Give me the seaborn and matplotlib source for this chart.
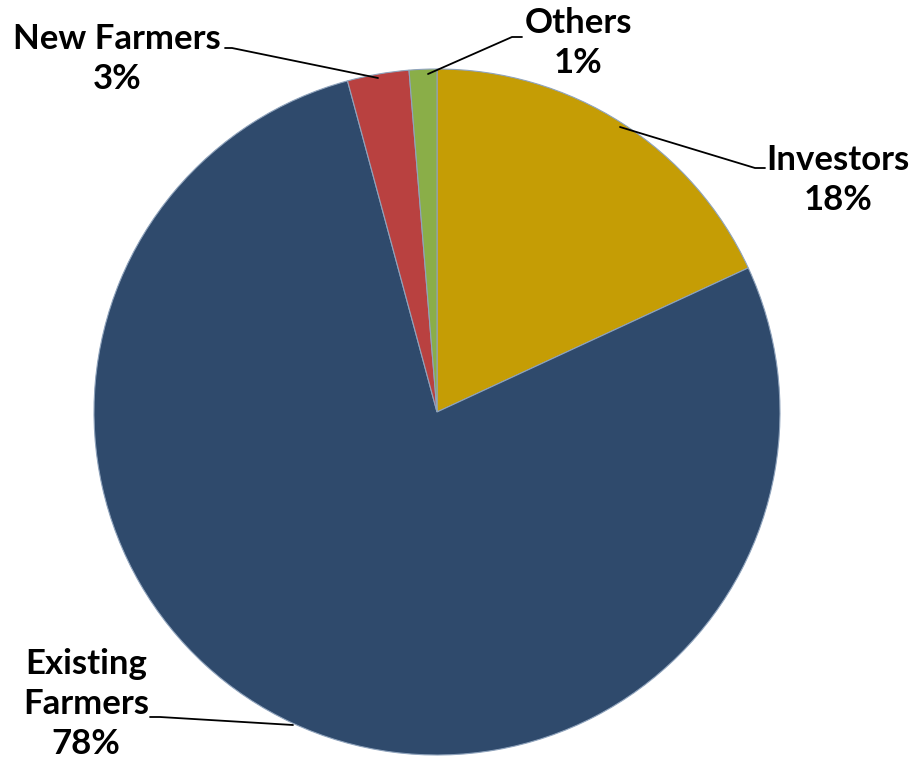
import matplotlib
matplotlib.use('Agg')
import matplotlib.pyplot as plt
import seaborn as sns

# Shares of the pie, labels show rounded values
categorias = ['Investors', 'Existing Farmers', 'New Farmers', 'Others']
valores = [18.1, 77.7, 2.9, 1.3]
etiquetas = ['Investors\n18%', 'Existing\nFarmers\n78%', 'New Farmers\n3%', 'Others\n1%']
colores = ['#C59D05', '#2F4A6C', '#B94140', '#8AAE48']

sns.set_theme(style="white")
plt.rcParams['font.family'] = ['Lato', 'DejaVu Sans']

fig = plt.figure(figsize=(9.14, 7.66), dpi=100)
ax = fig.add_axes([0, 0, 1, 1])

# pixel-like coordinates (y up)
cx, cy, r = 437, 766 - 412, 343
wedges, _ = ax.pie(valores, colors=colores, startangle=90, counterclock=False,
                   center=(cx, cy), radius=r,
                   wedgeprops=dict(edgecolor='#8FA3BC', linewidth=0.8))
ax.set_xlim(0, 914)
ax.set_ylim(0, 766)
ax.set_aspect('equal')
ax.axis('off')

# label positions: (text x, text y, line start on wedge, elbow, elbow end)
pos = {
    'Investors':        (838, 766 - 180, (620, 766 - 127), (755, 766 - 168), (765, 766 - 168)),
    'Existing Farmers': (86, 766 - 704,  (293, 766 - 725), (160, 766 - 717), (150, 766 - 717)),
    'New Farmers':      (117, 766 - 59,  (378, 766 - 78),  (232, 766 - 48),  (225, 766 - 48)),
    'Others':           (578, 766 - 43,  (428, 766 - 74),  (512, 766 - 37),  (522, 766 - 37)),
}

for cat, lab in zip(categorias, etiquetas):
    tx, ty, p0, p1, p2 = pos[cat]
    ax.plot([p0[0], p1[0], p2[0]], [p0[1], p1[1], p2[1]], color='black', lw=1.3)
    ax.text(tx, ty, lab, ha='center', va='center', fontsize=25,
            fontweight='bold', color='black', linespacing=1.3)

plt.savefig('out.png', dpi=100)
